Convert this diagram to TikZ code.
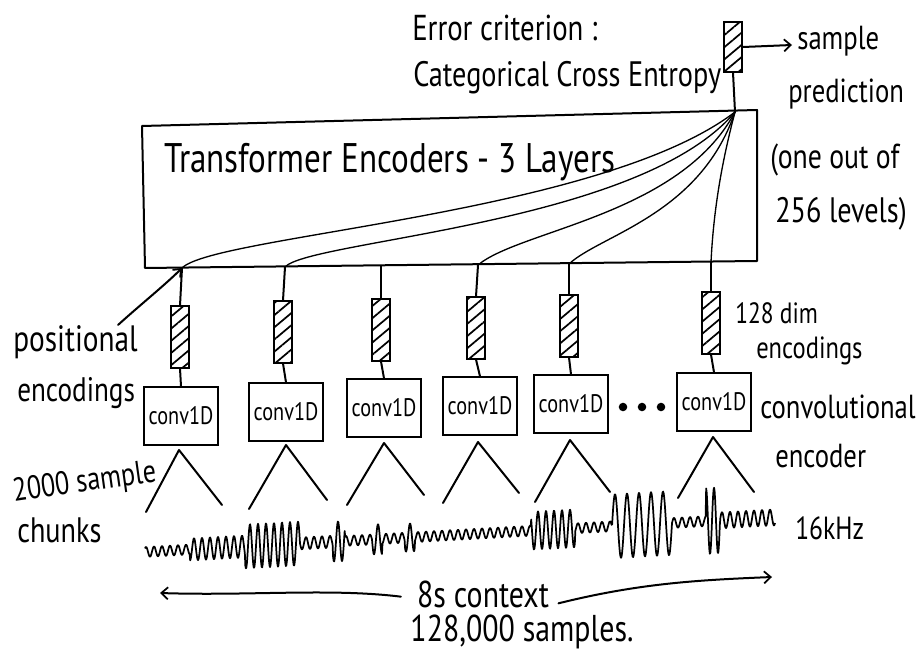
\documentclass[tikz,border=0pt]{standalone}
\usepackage{fontspec}
\newfontfamily\hand[FakeStretch=0.8]{PT Sans}
\usetikzlibrary{arrows.meta,patterns.meta}
\begin{document}
\begin{tikzpicture}[x=0.75pt,y=-0.75pt,
  ink/.style={line width=1.5pt, line cap=round, line join=round},
  thinink/.style={line width=1.0pt, line cap=round},
  lbl/.style={font=\hand\fontsize{26}{28}\selectfont, inner sep=0pt, anchor=west},
  encbar/.style={draw, line width=1.3pt, minimum width=13pt, minimum height=46pt, inner sep=0pt,
     pattern={Lines[angle=40,distance=7pt,line width=1.3pt]}},
  convbox/.style={draw, line width=1.5pt, minimum width=55pt, minimum height=43pt, inner sep=0pt,
     font=\hand\fontsize{19}{20}\selectfont},
  barb/.style={-{Straight Barb[length=5pt,width=9pt,line width=1.3pt]}}
]
\useasboundingbox (0,0) rectangle (920,655);

% transformer block
\draw[ink] (142,126) -- (757,110) -- (757,261) -- (145,268) -- cycle;
\node[lbl, font=\hand\fontsize{31}{33}\selectfont] (tftext) at (164,162) {Transformer Encoders - 3 Layers};
\coordinate (conv) at (735,112);
\coordinate (b1) at (182,268);
\coordinate (b2) at (285,267);
\coordinate (b3) at (381,266);
\coordinate (b4) at (478,265);
\coordinate (b5) at (569,264);
\coordinate (b6) at (711,262);

% attention curves
\draw[thinink] (b1) .. controls (215,235) and (600,215) .. (conv);
\draw[thinink] (b2) .. controls (310,240) and (640,225) .. (conv);
\draw[thinink] (b4) .. controls (520,230) and (680,215) .. (conv);
\draw[thinink] (b5) .. controls (600,235) and (700,215) .. (conv);
\draw[thinink] (b6) .. controls (714,200) and (725,150) .. (conv);

% output encoding
\node[encbar, minimum width=14pt, minimum height=37pt] (out) at (733,47) {};
\draw[ink] (out.south) -- (conv);
\coordinate (outarrow) at (792,45);
\draw[ink, barb] (out.east) -- (outarrow);

% top labels
\node[lbl, font=\hand\fontsize{27}{28}\selectfont] (err) at (412,28) {Error criterion :};
\node[lbl, font=\hand\fontsize{26.5}{28}\selectfont] (cce) at (413,78) {Categorical Cross Entropy};
\node[lbl, font=\hand\fontsize{25}{26}\selectfont] (sp1) at (797,41) {sample};
\node[lbl, font=\hand\fontsize{25}{26}\selectfont] (sp2) at (788,94) {prediction};
\node[lbl] (sp3) at (770,160) {(one out of};
\node[lbl, font=\hand\fontsize{26.5}{28}\selectfont] (sp4) at (775,214) {256 levels)};

% encodings
\node[encbar] (e1) at (180,337) {};
\node[encbar] (e2) at (283,332) {};
\node[encbar] (e3) at (381,330) {};
\node[encbar] (e4) at (476,328) {};
\node[encbar] (e5) at (569,326) {};
\node[encbar] (e6) at (711,323) {};
\foreach \i in {1,...,6} {\draw[ink] (b\i) -- (e\i.north);}

% conv boxes
\node[convbox] (c1) at (181,416) {conv1D};
\node[convbox] (c2) at (286,412) {conv1D};
\node[convbox] (c3) at (384,408) {conv1D};
\node[convbox] (c4) at (480,406) {conv1D};
\node[convbox] (c5) at (571,404) {conv1D};
\node[convbox] (c6) at (714,402) {conv1D};
\foreach \i in {1,...,6} {\draw[ink] (e\i.south) -- (c\i.north);}
\foreach \xx in {623,642,661} {\fill (\xx,407) circle (3.2pt);}

% chunk triangles
\draw[ink] (146,512) -- (179,450) -- (222,505);
\draw[ink] (249,509) -- (286,445) -- (327,500);
\draw[ink] (347,505) -- (384,443) -- (424,495);
\draw[ink] (443,503) -- (478,442) -- (519,493);
\draw[ink] (535,502) -- (570,440) -- (610,492);
\draw[ink] (678,498) -- (713,437) -- (754,492);

% waveform
\draw[line width=1.3pt, line join=round] plot[domain=145:775, samples=1200, variable=\t]
 (\t, {552-0.055*(\t-145) - (5 + 6*(\t>=190)*(\t<245) + 17*(\t>=245)*(\t<300) + 1*(\t>=300)*(\t<333)
   + 15*(\t>=333)*(\t<345) + 10*(\t>=372)*(\t<382) + 9*(\t>=405)*(\t<415)
   + 14*(\t>=531)*(\t<575) + 27*(\t>=612)*(\t<672) + 28*(\t>=706)*(\t<720) + 3*(\t>=720))
   *((1-(\t>612)*(\t<672))*sin(mod(\t,8)*45) + (\t>612)*(\t<672)*sin(mod(\t,12)*30))});

% side labels
\node[lbl, font=\hand\fontsize{27.5}{29}\selectfont] (pos1) at (13,342) {positional};
\node[lbl, font=\hand\fontsize{25.5}{27}\selectfont] (pos2) at (17,393) {encodings};
\coordinate (posarrow) at (118,325);
\draw[ink, -{Straight Barb[length=5pt,width=8pt,line width=1.3pt]}] (posarrow) .. controls (140,305) and (165,285) .. (b1);
\node[lbl, font=\hand\fontsize{22}{24}\selectfont] (dim1) at (735,313) {128 dim};
\node[lbl, font=\hand\fontsize{23}{25}\selectfont] (dim2) at (756,351) {encodings};
\node[lbl, font=\hand\fontsize{25}{27}\selectfont] (cv1) at (760,407) {convolutional};
\node[lbl, font=\hand\fontsize{25}{26}\selectfont] (cv2) at (775,456) {encoder};
\node[lbl, rotate=8, font=\hand\fontsize{24.5}{26}\selectfont] (ch1) at (13,493) {2000 sample};
\node[lbl, font=\hand\fontsize{26.5}{28}\selectfont] (ch2) at (17,530) {chunks};
\node[lbl, font=\hand\fontsize{24}{26}\selectfont] (khz) at (795,528) {16kHz};

% context arrow
\node[lbl, anchor=center, font=\hand\fontsize{28}{30}\selectfont] (ctx) at (483,594) {8s context};
\coordinate (ctxl) at (160,593);
\coordinate (ctxr) at (772,577);
\draw[ink, barb] (ctx.west) ++(-12pt,-2pt) .. controls (330,588) and (250,596) .. (ctxl);
\draw[ink, barb] (ctx.east) ++(7pt,-7pt) .. controls (640,583) and (700,580) .. (ctxr);
\node[lbl, anchor=center, font=\hand\fontsize{28}{30}\selectfont] (samples) at (522,632) {128,000 samples.};
\end{tikzpicture}
\end{document}
